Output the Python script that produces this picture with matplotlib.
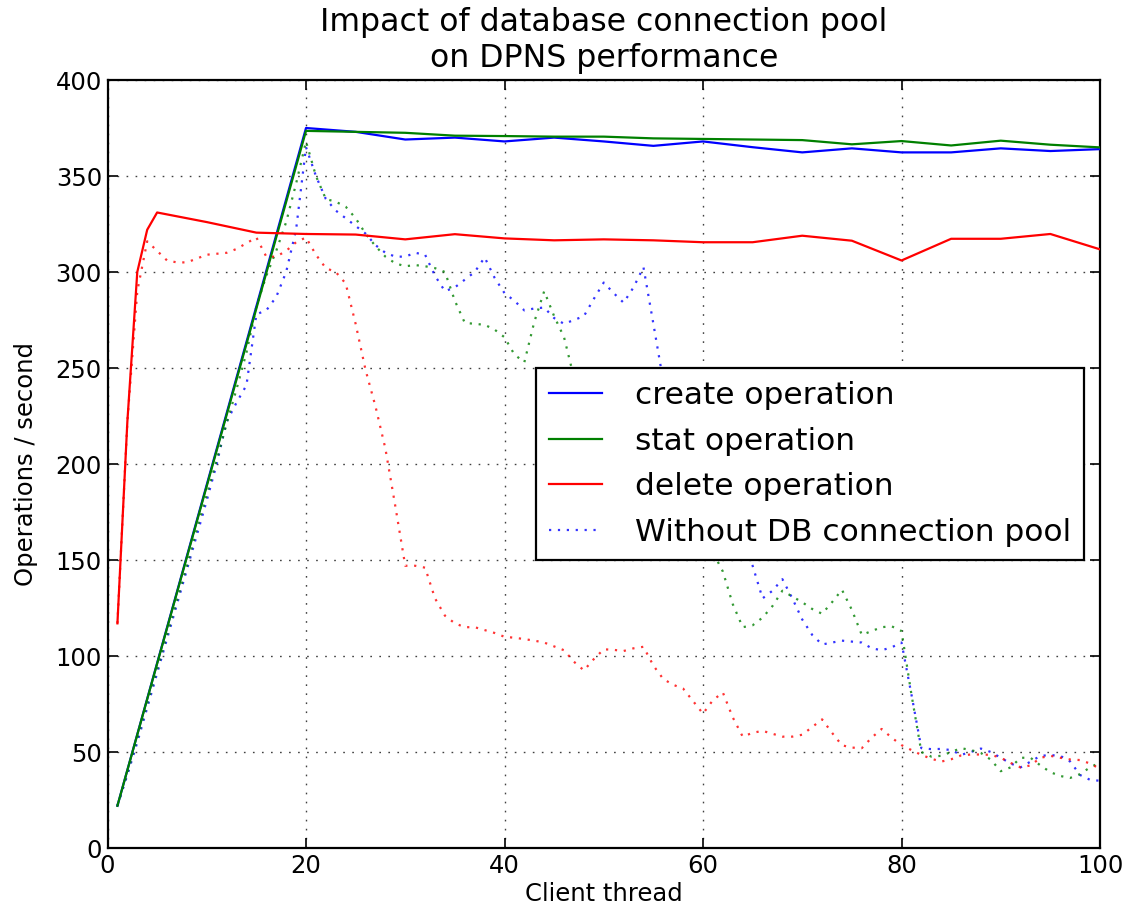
import matplotlib
matplotlib.use("Agg")
import matplotlib.pyplot as plt
import numpy as np

# ---------------- data ----------------
x_pool = [1, 20, 25, 30, 35, 40, 45, 50, 55, 60, 65, 70, 75, 80, 85, 90, 95, 100]
create_op = [22, 375, 373, 369, 370, 368, 370, 368, 365.7, 368, 365, 362.3, 364.4,
             362.3, 362.3, 364.4, 363, 364]
stat_op = [22, 373.5, 373, 372.5, 371, 370.8, 370.5, 370.5, 369.6, 369.3, 369, 368.7,
           366.5, 368.2, 365.9, 368.4, 366.3, 364.9]

x_delete = [1, 2, 3, 4, 5, 10, 15, 20, 25, 30, 35, 40, 45, 50, 55, 60, 65, 70, 75, 80,
            85, 90, 95, 100]
delete_op = [117, 222, 300, 322, 331, 326, 320.5, 319.8, 319.5, 317, 319.7, 317.5, 316.5,
             317, 316.5, 315.5, 315.5, 318.9, 316.3, 306, 317.3, 317.3, 319.8, 311.8]

x_nopool = list(range(1, 101))
create_nopool = [22, 38, 55, 73, 91, 109, 127, 145, 163, 181,
                 200, 222, 232, 241, 278, 280, 287, 300, 322, 365,
                 350, 338, 332, 328, 324, 320, 314, 310, 308, 308,
                 310, 309, 298, 290, 292, 296, 300, 307.6, 297, 289,
                 285, 280, 281, 281.5, 276, 273, 275, 277, 286, 294.5,
                 289, 284, 292, 302.5, 273, 243, 228, 215, 205, 196,
                 185, 176, 166, 157, 147, 130, 134, 140, 130, 119,
                 111, 106, 107, 108, 107.5, 107, 104, 103, 104.5, 107,
                 80, 52, 51.5, 51.6, 51, 48.5, 50, 51.8, 50, 47,
                 44, 42, 45, 48, 48.4, 48, 45, 38, 35.5, 35]
stat_nopool = [22, 39, 57, 75, 93, 111, 129, 147, 166, 184,
               202, 221, 239, 258, 282, 298, 311, 326, 346, 368,
               350, 338, 336.6, 334, 328, 320, 313.5, 308, 304.5, 303,
               303.6, 303, 302, 300, 285, 273.5, 273, 272.5, 270, 266,
               257, 253, 274, 290, 277, 266, 245, 238, 232, 224,
               216, 210, 204, 196, 190, 183, 176, 170, 165, 159,
               154, 144, 127, 115, 116, 120, 126, 134, 131, 128,
               124.5, 122, 128, 134.5, 124, 111, 113, 115, 115.5, 113,
               80, 50, 47.6, 48, 50, 52, 51, 49.5, 46, 40,
               42, 47, 47, 43, 39.5, 37.5, 36.5, 38.5, 42, 44.5]
delete_nopool = [117, 222, 290, 316, 311, 306, 305, 305, 307, 309,
                 309.5, 310, 312, 315, 318, 308, 308, 311, 315.5, 318,
                 309, 302, 300, 294, 273, 249, 230, 208, 178, 147,
                 147, 146, 130, 121, 117, 115, 115, 113.5, 112, 110,
                 109.5, 108.8, 108, 107, 105, 103, 97, 92.5, 98.4, 103.5,
                 103.2, 102.6, 104, 104.8, 95, 88, 85, 83, 76.5, 70,
                 77, 81, 68, 58, 60, 61, 59.5, 58, 58, 59,
                 63, 67, 60, 53.5, 52.3, 52, 57.5, 62, 57.5, 53.6,
                 51, 48.5, 46.5, 45, 46.2, 48.2, 48.7, 48.7, 48.5, 47,
                 44.3, 42, 43, 47, 48, 47, 46.1, 45.8, 44, 41.2]

labels = ["create operation", "stat operation", "delete operation",
          "Without DB connection pool"]
title = "Impact of database connection pool\non DPNS performance"
xlabel = "Client thread"
ylabel = "Operations / second"
xticks = [0, 20, 40, 60, 80, 100]
yticks = [0, 50, 100, 150, 200, 250, 300, 350, 400]

# ---------------- plot ----------------
plt.rcParams['font.family'] = ['DejaVu Sans']
fig = plt.figure(figsize=(11.22, 9.09), dpi=100)
ax = fig.add_axes([107.5 / 1122, 61 / 909, 992.5 / 1122, 768 / 909])

blue, green, red = (0, 0, 1), (0, 0.5, 0), (1, 0, 0)
lw = 1.6
dot = (0, (1, 3))

ax.plot(x_pool, create_op, color=blue, lw=lw, label=labels[0], zorder=3)
ax.plot(x_pool, stat_op, color=green, lw=lw, label=labels[1], zorder=3)
ax.plot(x_delete, delete_op, color=red, lw=lw, label=labels[2], zorder=3)
ax.plot(x_nopool, create_nopool, color=blue, lw=1.6, linestyle=dot, alpha=0.8,
        label=labels[3], zorder=2)
ax.plot(x_nopool, stat_nopool, color=green, lw=1.6, linestyle=dot, alpha=0.8, zorder=2)
ax.plot(x_nopool, delete_nopool, color=red, lw=1.6, linestyle=dot, alpha=0.8, zorder=2)

ax.set_xlim(0, 100)
ax.set_ylim(0, 400)
ax.set_xticks(xticks)
ax.set_yticks(yticks)
ax.grid(True, color='k', linestyle=(0, (1.2, 5.3)), linewidth=1.0, alpha=0.75)
ax.set_axisbelow(True)
for s in ax.spines.values():
    s.set_linewidth(1.6)
ax.tick_params(direction='in', length=7, width=1.2, top=True, right=True,
               labelsize=17.5, pad=4)

ax.set_title(title, fontsize=22.7, pad=9, linespacing=1.25)
ax.set_xlabel(xlabel, fontsize=17.5, labelpad=3)
ax.set_ylabel(ylabel, fontsize=17.5, labelpad=13)

leg = ax.legend(loc='center right', fontsize=22.5, frameon=True, fancybox=False,
                framealpha=1.0, edgecolor='k', handlelength=1.7,
                handletextpad=1.05, labelspacing=0.53, borderpad=0.42,
                borderaxespad=0.5)
leg.get_frame().set_linewidth(1.6)

fig.savefig("out.png", dpi=100, facecolor='white')
